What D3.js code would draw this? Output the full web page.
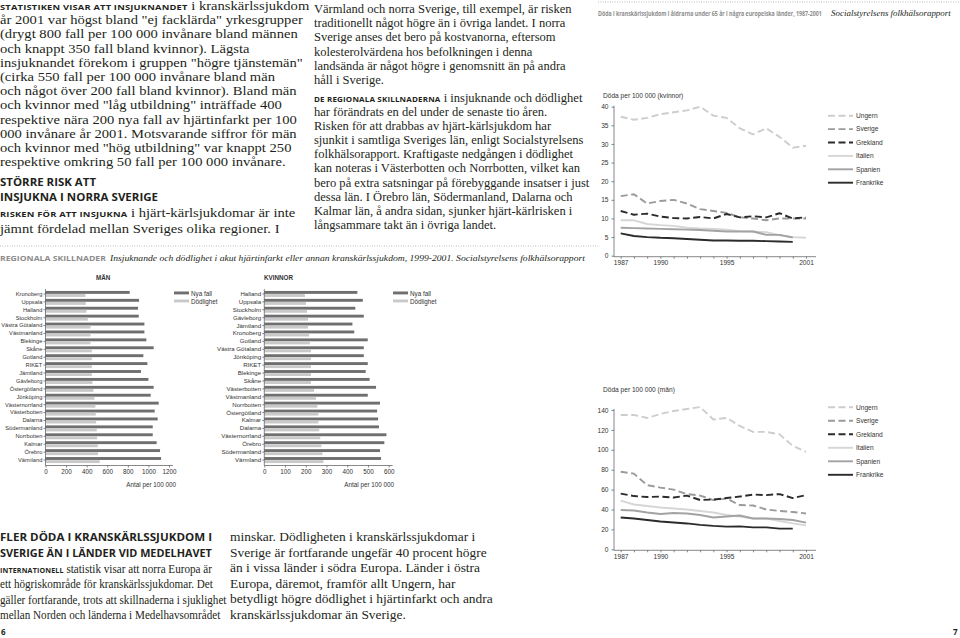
<!DOCTYPE html>
<html><head><meta charset="utf-8">
<script src="https://cdn.jsdelivr.net/npm/d3@7/dist/d3.min.js"></script>
<style>
html,body{margin:0;padding:0;background:#fff;}
svg{display:block;}
</style></head>
<body>
<svg id="page" width="960" height="638"></svg>
<script>
// ---------------- DATA ----------------
const menRegions = ["Kronoberg","Uppsala","Halland","Stockholm","Västra Götaland","Västmanland","Blekinge","Skåne","Gotland","RIKET","Jämtland","Gävleborg","Östergötland","Jönköping","Västernorrland","Västerbotten","Dalarna","Södermanland","Norrbotten","Kalmar","Örebro","Värmland"];
const menNya = [818,909,899,906,961,961,980,1051,951,990,928,1000,1051,1022,1100,1061,1090,1042,1042,1080,1113,1123];
const menDod = [388,391,398,411,437,437,437,450,450,450,450,456,466,475,485,488,492,498,501,508,511,527];

const womenRegions = ["Halland","Uppsala","Stockholm","Gävleborg","Jämtland","Kronoberg","Gotland","Västra Götaland","Jönköping","RIKET","Blekinge","Skåne","Västerbotten","Västmanland","Norrbotten","Östergötland","Kalmar","Dalarna","Västernorrland","Örebro","Södermanland","Värmland"];
const womenNya = [449,475,439,480,425,434,499,480,480,499,489,508,539,499,558,544,549,553,589,579,558,563];
const womenDod = [196,201,206,211,211,216,220,225,225,225,225,225,240,249,256,261,261,265,270,275,280,285];

const menTicks = [0,200,400,600,800,1000,1200];
const womenTicks = [0,100,200,300,400,500,600];
const barLegend = ["Nya fall","Dödlighet"];

const years = [1987,1988,1989,1990,1991,1992,1993,1994,1995,1996,1997,1998,1999,2000,2001];
const yearLabels = [1987,1990,1995,2001];
const countries = ["Ungern","Sverige","Grekland","Italien","Spanien","Frankrike"];

// Women, deaths per 100 000
const kvUngern    = [37.3,36.5,37.0,38.0,38.5,39.0,40.0,37.6,37.0,34.2,32.6,34.2,31.9,29.0,29.5];
const kvSverige   = [16.0,16.5,14.0,14.7,15.0,14.0,12.5,12.0,11.5,10.3,10.0,9.5,10.0,10.0,10.0];
const kvGrekland  = [12.0,11.0,11.3,10.5,10.1,10.0,10.4,10.0,11.2,10.3,10.6,10.3,11.4,10.0,10.3];
const kvItalien   = [9.5,9.5,8.5,8.2,8.0,7.5,7.3,7.2,7.0,6.6,6.5,6.3,5.5,5.0,4.8];
const kvSpanien   = [7.5,7.4,7.3,7.2,7.1,7.0,6.9,6.7,6.5,6.5,6.5,5.6,5.6,4.9];
const kvFrankrike = [6.0,5.3,5.0,4.8,4.7,4.5,4.3,4.1,4.1,4.0,4.0,3.9,3.8,3.7];

// Men, deaths per 100 000
const mUngern    = [135,135,132,136,139,141,143,130.5,132,124,118,118,115.5,104,98];
const mSverige   = [78,76,64.5,62,60,55.5,54,49.5,51,44.5,44,40,38.5,37.5,36];
const mGrekland  = [56,53.5,52.5,53,52,54,49.5,50,51.5,53,55,54.5,55.5,51.5,54.5];
const mItalien   = [49,45,43.5,42,41,40,38.5,37,34.5,33,31,31,28.5,26,24];
const mSpanien   = [39.5,39,37,35.5,36.5,36,34.5,32,33,34,31,31,30.5,29.5,26.8];
const mFrankrike = [32,31,29.5,28,27,26,24.5,23.5,22.8,23,22,22,20.8,20.8];

const kvTicks = [0,5,10,15,20,25,30,35,40];
const mTicks = [0,20,40,60,80,100,120,140];

// ---------------- TEXT ----------------
const leftTop = [
 [["STATISTIKEN VISAR ATT INSJUKNANDET","b"],[" i kranskärlssjukdom","r"]],
 [["år 2001 var högst bland \"ej facklärda\" yrkesgrupper","r"]],
 [["(drygt 800 fall per 100 000 invånare bland männen","r"]],
 [["och knappt 350 fall bland kvinnor). Lägsta","r"]],
 [["insjuknandet förekom i gruppen \"högre tjänstemän\"","r"]],
 [["(cirka 550 fall per 100 000 invånare bland män","r"]],
 [["och något över 200 fall bland kvinnor). Bland män","r"]],
 [["och kvinnor med \"låg utbildning\" inträffade 400","r"]],
 [["respektive nära 200 nya fall av hjärtinfarkt per 100","r"]],
 [["000 invånare år 2001. Motsvarande siffror för män","r"]],
 [["och kvinnor med \"hög utbildning\" var knappt 250","r"]],
 [["respektive omkring 50 fall per 100 000 invånare.","r"]]
];
const leftHead = ["STÖRRE RISK ATT","INSJUKNA I NORRA SVERIGE"];
const leftTop2 = [
 [["RISKEN FÖR ATT INSJUKNA","b"],[" i hjärt-kärlsjukdomar är inte","r"]],
 [["jämnt fördelad mellan Sveriges olika regioner. I","r"]]
];
const midTop1 = [
 "Värmland och norra Sverige, till exempel, är risken",
 "traditionellt något högre än i övriga landet. I norra",
 "Sverige anses det bero på kostvanorna, eftersom",
 "kolesterolvärdena hos befolkningen i denna",
 "landsända är något högre i genomsnitt än på andra",
 "håll i Sverige."
];
const midTop2 = [
 [["DE REGIONALA SKILLNADERNA","b"],[" i insjuknande och dödlighet","r"]],
 [["har förändrats en del under de senaste tio åren.","r"]],
 [["Risken för att drabbas av hjärt-kärlsjukdom har","r"]],
 [["sjunkit i samtliga Sveriges län, enligt Socialstyrelsens","r"]],
 [["folkhälsorapport. Kraftigaste nedgången i dödlighet","r"]],
 [["kan noteras i Västerbotten och Norrbotten, vilket kan","r"]],
 [["bero på extra satsningar på förebyggande insatser i just","r"]],
 [["dessa län. I Örebro län, Södermanland, Dalarna och","r"]],
 [["Kalmar län, å andra sidan, sjunker hjärt-kärlrisken i","r"]],
 [["långsammare takt än i övriga landet.","r"]]
];
const botHead = ["FLER DÖDA I KRANSKÄRLSSJUKDOM I","SVERIGE ÄN I LÄNDER VID MEDELHAVET"];
const botLeft = [
 [["INTERNATIONELL","b"],[" statistik visar att norra Europa är","r"]],
 [["ett högriskområde för kranskärlssjukdomar. Det","r"]],
 [["gäller fortfarande, trots att skillnaderna i sjuklighet","r"]],
 [["mellan Norden och länderna i Medelhavsområdet","r"]]
];
const botMid = [
 "minskar. Dödligheten i kranskärlssjukdomar i",
 "Sverige är fortfarande ungefär 40 procent högre",
 "än i vissa länder i södra Europa. Länder i östra",
 "Europa, däremot, framför allt Ungern, har",
 "betydligt högre dödlighet i hjärtinfarkt och andra",
 "kranskärlssjukdomar än Sverige."
];

// ---------------- DRAW ----------------
const svg = d3.select("#page");
const INK = "#231f20";
const SERIF = "'Liberation Serif', 'Times New Roman', serif";
const SANS = "'Liberation Sans', Arial, sans-serif";
const HEAD = "'Open Sans', 'DejaVu Sans', sans-serif";

function block(x, y0, dy, lines, size, sx) {
  const g = svg.append("g").attr("transform", `translate(${x},0) scale(${sx},1)`);
  lines.forEach((l, i) => {
    const segs = typeof l === "string" ? [[l, "r"]] : l;
    const t = g.append("text").attr("x", 0).attr("y", y0 + i*dy).attr("fill", INK);
    segs.forEach(([s, k]) => {
      const ts = t.append("tspan").text(s);
      if (k === "b") ts.attr("font-family", HEAD).attr("font-weight", 700).attr("font-size", size*0.64).attr("letter-spacing", 0.15);
      else ts.attr("font-family", SERIF).attr("font-size", size);
    });
  });
}
// text squeezed/stretched horizontally to a target width via a group transform
function fitText(x, y, s, w, attrs) {
  const g = svg.append("g");
  const t = g.append("text").attr("x", 0).attr("y", 0).text(s);
  Object.entries(attrs).forEach(([k, v]) => t.attr(k, v));
  const len = t.node().getComputedTextLength() || w;
  g.attr("transform", `translate(${x},${y}) scale(${w/len},1)`);
  return t;
}
function heading(x, y, s, w, size) {
  fitText(x, y, s, w, {"font-family": HEAD, "font-weight": 700, "font-size": size, "fill": INK});
}

const BS = 11.6; // body size
block(0, 10, 14.2, leftTop, BS, 1.26);
heading(0, 186, leftHead[0], 96, 11.2);
heading(0, 201, leftHead[1], 158, 11.2);
block(0, 217, 15.6, leftTop2, BS, 1.26);
block(314, 13, 14.2, midTop1, BS, 1.08);
block(314, 102, 14.1, midTop2, BS, 1.08);

heading(0, 541, botHead[0], 212, 11.2);
heading(0, 557, botHead[1], 212, 11.2);
block(0, 573, 15.4, botLeft, BS, 0.96);
block(230, 541, 15.6, botMid, BS, 1.16);

// page numbers
svg.append("text").attr("x", 1).attr("y", 635).text("6").attr("font-family", HEAD).attr("font-weight", 700).attr("font-size", 8).attr("fill", INK);
svg.append("text").attr("x", 953).attr("y", 635).text("7").attr("font-family", HEAD).attr("font-weight", 700).attr("font-size", 8).attr("fill", INK);

// dotted rules
svg.append("line").attr("x1", 0).attr("x2", 600).attr("y1", 246).attr("y2", 246)
  .attr("stroke", "#999").attr("stroke-width", 0.8).attr("stroke-dasharray", "0.8,1.6");
svg.append("line").attr("x1", 598).attr("x2", 960).attr("y1", 2).attr("y2", 2)
  .attr("stroke", "#999").attr("stroke-width", 0.8).attr("stroke-dasharray", "0.8,1.6");

// captions
fitText(0, 261, "REGIONALA SKILLNADER", 106,
  {"font-family": HEAD, "font-weight": 700, "font-size": 7.8, "fill": "#8c8c8c"});
fitText(110, 261, "Insjuknande och dödlighet i akut hjärtinfarkt eller annan kranskärlssjukdom, 1999-2001. Socialstyrelsens folkhälsorapport", 475,
  {"font-family": SERIF, "font-style": "italic", "font-size": 8.6, "fill": INK});
fitText(598, 16, "Döda i kranskärlssjukdom i åldrarna under 65 år i några europeiska länder, 1987-2001", 224,
  {"font-family": HEAD, "font-weight": 700, "font-size": 6.6, "fill": "#8c8c8c"});
fitText(831, 16, "Socialstyrelsens folkhälsorapport", 120,
  {"font-family": SERIF, "font-style": "italic", "font-size": 8, "fill": INK});

// ---------------- BAR CHARTS ----------------
function barChart(cfg) {
  const g = svg.append("g");
  const y = d3.scaleBand().domain(cfg.cats).range([290, 464]);
  const x = d3.scaleLinear().domain([0, cfg.max]).range([cfg.x0, cfg.x1]);
  const c = d => y(d) + y.bandwidth()/2;
  g.selectAll("rect.nya").data(cfg.cats).join("rect").attr("class","nya")
    .attr("x", x(0)).attr("y", d => c(d) - 3.0).attr("height", 2.9)
    .attr("width", (d,i) => x(cfg.nya[i]) - x(0)).attr("fill", "#6f6f6f");
  g.selectAll("rect.dod").data(cfg.cats).join("rect").attr("class","dod")
    .attr("x", x(0)).attr("y", d => c(d) + 0.1).attr("height", 2.9)
    .attr("width", (d,i) => x(cfg.dod[i]) - x(0)).attr("fill", "#c9c9c9");
  const axY = 465.5;
  const xa = g.append("g").attr("transform", `translate(0,${axY})`)
    .call(d3.axisBottom(x).tickValues(cfg.ticks).tickFormat(d3.format("d")).tickSize(2).tickSizeOuter(0).tickPadding(2));
  xa.select(".domain").remove();
  xa.append("line").attr("x1", x(0)).attr("x2", x(cfg.max) + 4).attr("stroke", "#555").attr("stroke-width", 0.7);
  xa.selectAll(".tick line").attr("stroke", "#555").attr("stroke-width", 0.7);
  xa.selectAll("text").attr("font-family", SANS).attr("font-size", 6.3).attr("fill", "#333");
  const ya = g.append("g").attr("transform", `translate(${x(0)},0)`)
    .call(d3.axisLeft(y).tickSize(2).tickSizeOuter(0).tickPadding(1.2));
  ya.select(".domain").remove();
  ya.append("line").attr("y1", 289).attr("y2", axY).attr("stroke", "#555").attr("stroke-width", 0.7);
  ya.selectAll(".tick line").attr("stroke", "#555").attr("stroke-width", 0.7);
  ya.selectAll("text").attr("font-family", SANS).attr("font-size", cfg.labSize).attr("fill", "#333");
  g.append("text").attr("x", cfg.unitX).attr("y", 487).attr("text-anchor", "end").text("Antal per 100 000")
    .attr("font-family", SANS).attr("font-size", 6.3).attr("fill", "#333");
  g.append("text").attr("x", cfg.titleX).attr("y", 280).text(cfg.title)
    .attr("font-family", SANS).attr("font-weight", 700).attr("font-size", 6.3).attr("fill", "#333");
  barLegend.forEach((s, i) => {
    g.append("rect").attr("x", cfg.legX).attr("y", 291.5 + i*8).attr("width", 15).attr("height", 2.9)
      .attr("fill", i === 0 ? "#6f6f6f" : "#c9c9c9");
    g.append("text").attr("x", cfg.legX + 17).attr("y", 295.5 + i*8).text(s)
      .attr("font-family", SANS).attr("font-size", 6.3).attr("fill", "#333");
  });
}
barChart({cats: menRegions, nya: menNya, dod: menDod, max: 1200, ticks: menTicks, x0: 45.5, x1: 169,
          unitX: 176, titleX: 96, title: "MÄN", legX: 174, labSize: 5.7});
barChart({cats: womenRegions, nya: womenNya, dod: womenDod, max: 600, ticks: womenTicks, x0: 264.3, x1: 388.7,
          unitX: 394, titleX: 264, title: "KVINNOR", legX: 393, labSize: 6.1});

// ---------------- LINE CHARTS ----------------
const styles = {
  "Ungern":   {c: "#cdcdcd", d: "7,3.5"},
  "Sverige":  {c: "#9b9b9b", d: "7,3.5"},
  "Grekland": {c: "#2b2b2b", d: "7,3.5"},
  "Italien":  {c: "#d6d6d6", d: null},
  "Spanien":  {c: "#a3a3a3", d: null},
  "Frankrike":{c: "#2b2b2b", d: null}
};
function lineChart(cfg) {
  const g = svg.append("g");
  const x = d3.scaleLinear().domain([1987, 2001]).range([620.7, 806]);
  const y = d3.scaleLinear().domain([0, cfg.max]).range([cfg.y0, cfg.y1]);
  const axX = 614, axY = cfg.y0 + 1;
  const ya = g.append("g").attr("transform", `translate(${axX},0)`)
    .call(d3.axisLeft(y).tickValues(cfg.ticks).tickSize(2.5).tickSizeOuter(0).tickPadding(3));
  ya.select(".domain").remove();
  ya.append("line").attr("y1", y(cfg.max) - 1).attr("y2", axY).attr("stroke", "#555").attr("stroke-width", 0.7);
  ya.selectAll(".tick line").attr("stroke", "#555").attr("stroke-width", 0.7);
  ya.selectAll("text").attr("font-family", SANS).attr("font-size", 6.6).attr("fill", "#333");
  const xa = g.append("g").attr("transform", `translate(0,${axY})`)
    .call(d3.axisBottom(x).tickValues(years).tickSize(2).tickSizeOuter(0).tickPadding(2)
      .tickFormat(d => yearLabels.includes(d) ? String(d) : ""));
  xa.select(".domain").remove();
  xa.append("line").attr("x1", axX).attr("x2", 816).attr("stroke", "#555").attr("stroke-width", 0.7);
  xa.selectAll(".tick line").attr("stroke", "#555").attr("stroke-width", 0.7);
  xa.selectAll("text").attr("font-family", SANS).attr("font-size", 6.6).attr("fill", "#333");
  g.append("text").attr("x", 603).attr("y", cfg.titleY).text(cfg.title)
    .attr("font-family", SANS).attr("font-size", 6.6).attr("fill", "#333");
  const line = d3.line().x((d, i) => x(years[i])).y(d => y(d));
  countries.forEach((k, i) => {
    const st = styles[k];
    g.append("path").datum(cfg.series[i]).attr("d", line).attr("fill", "none")
      .attr("stroke", st.c).attr("stroke-width", 1.9).attr("stroke-dasharray", st.d)
      .attr("stroke-linejoin", "round");
    const ly = cfg.legY0 + i*cfg.legDy;
    g.append("line").attr("x1", 828).attr("x2", 853).attr("y1", ly).attr("y2", ly)
      .attr("stroke", st.c).attr("stroke-width", 1.9).attr("stroke-dasharray", st.d);
    g.append("text").attr("x", 856).attr("y", ly + 2.3).text(k)
      .attr("font-family", SANS).attr("font-size", 6.6).attr("fill", "#333");
  });
}
lineChart({max: 40, ticks: kvTicks, y0: 255.7, y1: 106.7, title: "Döda per 100 000 (kvinnor)", titleY: 98,
  series: [kvUngern, kvSverige, kvGrekland, kvItalien, kvSpanien, kvFrankrike], legY0: 115.7, legDy: 13.4});
lineChart({max: 140, ticks: mTicks, y0: 549.3, y1: 410, title: "Döda per 100 000 (män)", titleY: 391.5,
  series: [mUngern, mSverige, mGrekland, mItalien, mSpanien, mFrankrike], legY0: 407.3, legDy: 13.5});
</script>
</body></html>
